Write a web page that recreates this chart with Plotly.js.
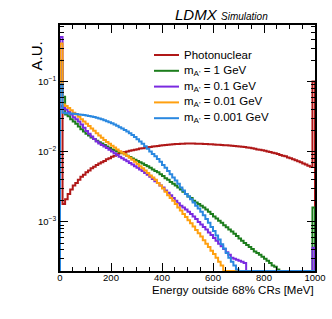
<!DOCTYPE html>
<html>
<head>
<meta charset="utf-8">
<script src="https://cdn.plot.ly/plotly-3.0.1.min.js"></script>
<style>html,body{margin:0;padding:0;background:#fff;}#chart{width:332px;height:319px;}</style>
</head>
<body>
<div id="chart"></div>
<script>
// Bin layout: 100 bins of 10 MeV from 0 to 1000
const binWidth = 10;
const nBins = 100;

const seriesNames = ["Photonuclear", "m<sub>A'</sub> = 1 GeV", "m<sub>A'</sub> = 0.1 GeV", "m<sub>A'</sub> = 0.01 GeV", "m<sub>A'</sub> = 0.001 GeV"];
const seriesColors = ["#b01818", "#1c7d1c", "#7a2ae0", "#ffa010", "#2a88e0"];

const photonuclear = [
  0.045, 0.0018, 0.0021, 0.0025, 0.0029, 0.0033, 0.0036, 0.0040, 0.0044, 0.0047,
  0.0051, 0.0054, 0.0058, 0.0061, 0.0065, 0.0068, 0.0071, 0.0074, 0.0078, 0.0081,
  0.0085, 0.0088, 0.0092, 0.0095, 0.0097, 0.0099, 0.0101, 0.0103, 0.0105, 0.0107,
  0.0109, 0.0111, 0.0112, 0.0114, 0.0116, 0.0117, 0.0119, 0.0120, 0.0121, 0.0123,
  0.0124, 0.0125, 0.0126, 0.0127, 0.0128, 0.0129, 0.0129, 0.0130, 0.0130, 0.0131,
  0.0131, 0.0131, 0.0131, 0.0130, 0.0130, 0.0130, 0.0129, 0.0129, 0.0128, 0.0128,
  0.0127, 0.0126, 0.0126, 0.0125, 0.0124, 0.0124, 0.0123, 0.0122, 0.0121, 0.0120,
  0.0119, 0.0118, 0.0117, 0.0115, 0.0114, 0.0112, 0.0110, 0.0108, 0.0107, 0.0105,
  0.0103, 0.0101, 0.0099, 0.0097, 0.0095, 0.0093, 0.0090, 0.0088, 0.0086, 0.0083,
  0.0081, 0.0078, 0.0076, 0.0073, 0.0071, 0.0068, 0.0066, 0.0063, 0.0061, 0.100
];

const mA_1GeV = [
  0.20, 0.061, 0.034, 0.032, 0.029, 0.027, 0.025, 0.023, 0.021, 0.0195,
  0.018, 0.017, 0.016, 0.0152, 0.0144, 0.0137, 0.0131, 0.0125, 0.0119, 0.0113,
  0.0108, 0.0105, 0.0102, 0.0099, 0.0096, 0.0092, 0.0088, 0.0084, 0.0080, 0.0077,
  0.0074, 0.0071, 0.0068, 0.0065, 0.0062, 0.0059, 0.0056, 0.0053, 0.0051, 0.0048,
  0.0045, 0.0042, 0.0040, 0.0037, 0.0035, 0.0033, 0.0031, 0.0029, 0.0027, 0.0025,
  0.0023, 0.0022, 0.0020, 0.0019, 0.0018, 0.0017, 0.0016, 0.0015, 0.0014, 0.0013,
  0.0012, 0.00112, 0.00104, 0.00097, 0.00090, 0.00084, 0.00078, 0.00073, 0.00068, 0.00063,
  0.00058, 0.00054, 0.00050, 0.00047, 0.00044, 0.00041, 0.00038, 0.00036, 0.00034, 0.00032,
  0.00030, 0.00028, 0.00026, 0.00024, 0.00023, 0.00021, 0, 0, 0, 0,
  0, 0, 0, 0, 0, 0, 0, 0, 0, 0.0016
];

const mA_0p1GeV = [
  0.43, 0.042, 0.040, 0.037, 0.034, 0.031, 0.029, 0.027, 0.0245, 0.022,
  0.0198, 0.018, 0.0165, 0.0152, 0.014, 0.0131, 0.0125, 0.0119, 0.0113, 0.0107,
  0.0101, 0.0095, 0.0090, 0.0085, 0.0081, 0.0077, 0.0073, 0.0069, 0.0066, 0.0062,
  0.0059, 0.0056, 0.0053, 0.0050, 0.0047, 0.0044, 0.0041, 0.0038, 0.0036, 0.0033,
  0.0031, 0.0028, 0.0026, 0.0024, 0.0022, 0.0020, 0.00185, 0.0017, 0.0016, 0.0015,
  0.0014, 0.0013, 0.0012, 0.0011, 0.0010, 0.00092, 0.00085, 0.00078, 0.00071, 0.00065,
  0.00059, 0.00054, 0.00049, 0.00045, 0.00041, 0.00037, 0.00034, 0.00031, 0.00030, 0.00029,
  0.00028, 0.00027, 0.00026, 0, 0, 0, 0, 0, 0, 0,
  0, 0, 0, 0, 0, 0, 0, 0, 0, 0,
  0, 0, 0, 0, 0, 0, 0, 0, 0, 0.00043
];

const mA_0p01GeV = [
  0.35, 0.047, 0.045, 0.042, 0.039, 0.036, 0.034, 0.0315, 0.029, 0.027,
  0.025, 0.0232, 0.0215, 0.0199, 0.0184, 0.017, 0.0158, 0.0147, 0.0138, 0.013,
  0.0122, 0.0115, 0.0108, 0.0102, 0.0097, 0.0092, 0.0087, 0.0082, 0.0077, 0.0072,
  0.0067, 0.0062, 0.0058, 0.0054, 0.0050, 0.0046, 0.0043, 0.0040, 0.0036, 0.0033,
  0.0030, 0.0027, 0.0024, 0.0022, 0.0020, 0.0018, 0.0016, 0.00145, 0.0013, 0.00118,
  0.00106, 0.00096, 0.00086, 0.00077, 0.00069, 0.00062, 0.00055, 0.00049, 0.00044, 0.00039,
  0.00035, 0.00031, 0.00027, 0.00024, 0, 0, 0, 0, 0, 0,
  0, 0, 0, 0, 0, 0, 0, 0, 0, 0,
  0, 0, 0, 0, 0, 0, 0, 0, 0, 0,
  0, 0, 0, 0, 0, 0, 0, 0, 0, 0
];

const mA_0p001GeV = [
  0.091, 0.036, 0.0355, 0.0352, 0.035, 0.0347, 0.0344, 0.034, 0.0337, 0.0333,
  0.0328, 0.0323, 0.0318, 0.0312, 0.0305, 0.0298, 0.029, 0.0282, 0.0273, 0.0264,
  0.0254, 0.0244, 0.0234, 0.0224, 0.0215, 0.0205, 0.0195, 0.0184, 0.0173, 0.0162,
  0.0151, 0.014, 0.013, 0.012, 0.011, 0.0101, 0.0093, 0.0086, 0.0079, 0.0072,
  0.0065, 0.0059, 0.0053, 0.0048, 0.0043, 0.0039, 0.0035, 0.0031, 0.0028, 0.0025,
  0.0023, 0.0021, 0.0019, 0.0017, 0.00155, 0.0014, 0.00125, 0.0011, 0.00097, 0.00085,
  0.00074, 0.00064, 0.00056, 0.00048, 0.00042, 0.00036, 0.00031, 0.00027, 0.00024, 0.00021,
  0, 0, 0, 0, 0, 0, 0, 0, 0, 0,
  0, 0, 0, 0, 0, 0, 0, 0, 0, 0,
  0, 0, 0, 0, 0, 0, 0, 0, 0, 0
];

const allSeries = [photonuclear, mA_1GeV, mA_0p1GeV, mA_0p01GeV, mA_0p001GeV];

const yTickVals = [0.001, 0.01, 0.1];
const yTickText = ["10<sup>\u22123</sup>", "10<sup>\u22122</sup>", "10<sup>\u22121</sup>"];
const xTickVals = [0, 200, 400, 600, 800, 1000];
const xTickText = ["0", "200", "400", "600", "800", "1000"];

// ---- drawing ----
const yMin = 2.0e-4, yMax = 0.64;
const W = 332, H = 319;
const M = {l: 60, r: 17, t: 25, b: 48};
const PW = W - M.l - M.r, PH = H - M.t - M.b;
const px = x => (x - M.l) / PW;
const py = y => 1 - (y - M.t) / PH;
const FONT = "Liberation Sans, Arial, Helvetica, sans-serif";

function stepTrace(vals, color, name) {
  const xs = [0], ys = [yMin];
  for (let i = 0; i < vals.length; i++) {
    xs.push(i * binWidth);
    ys.push(vals[i] > 0 ? vals[i] : yMin);
  }
  xs.push(nBins * binWidth); ys.push(vals[vals.length - 1] > 0 ? vals[vals.length - 1] : yMin);
  xs.push(nBins * binWidth); ys.push(yMin);
  return {x: xs, y: ys, type: 'scatter', mode: 'lines', name: name,
          line: {shape: 'hv', color: color, width: 2}, showlegend: false, hoverinfo: 'skip'};
}

const traces = allSeries.map((s, i) => stepTrace(s, seriesColors[i], seriesNames[i]));

const minorVals = [];
for (let e = -4; e <= 0; e++) for (let d = 2; d <= 9; d++) {
  const v = d * Math.pow(10, e);
  if (v > yMin && v < yMax) minorVals.push(v);
}

const shapes = [], annotations = [];
const legY0 = 55, legDy = 15.8;
seriesNames.forEach((n, i) => {
  const yy = py(legY0 + i * legDy);
  shapes.push({type: 'line', xref: 'paper', yref: 'paper', x0: px(154), x1: px(179), y0: yy, y1: yy,
               line: {color: seriesColors[i], width: 2}});
  annotations.push({xref: 'paper', yref: 'paper', x: px(182), y: yy, xanchor: 'left', yanchor: 'middle',
                    text: n, showarrow: false, font: {family: FONT, size: 11.5, color: '#000'}});
});
annotations.push({xref: 'paper', yref: 'paper', x: px(173), y: py(14.5), xanchor: 'left', yanchor: 'middle',
  text: '<i>LDMX</i>', showarrow: false, font: {family: FONT, size: 15, color: '#000'}});
annotations.push({xref: 'paper', yref: 'paper', x: px(219), y: py(16.5), xanchor: 'left', yanchor: 'middle',
  text: '<i>Simulation</i>', showarrow: false, font: {family: FONT, size: 10, color: '#000'}});
annotations.push({xref: 'paper', yref: 'paper', x: px(36), y: py(40), xanchor: 'center', yanchor: 'top',
  text: 'A.U.', textangle: -90, showarrow: false, font: {family: FONT, size: 15, color: '#000'}});
annotations.push({xref: 'paper', yref: 'paper', x: px(316), y: py(290), xanchor: 'right', yanchor: 'middle',
  text: 'Energy outside 68% CRs [MeV]', showarrow: false, font: {family: FONT, size: 11.5, color: '#000'}});

const layout = {
  width: W, height: H, margin: M,
  paper_bgcolor: '#fff', plot_bgcolor: '#fff',
  font: {family: FONT, color: '#000'},
  showlegend: false,
  xaxis: {
    range: [0, 1000], tickvals: xTickVals, ticktext: xTickText,
    ticks: 'inside', ticklen: 8, tickwidth: 1, tickcolor: '#000',
    showline: true, linecolor: '#000', linewidth: 2, mirror: 'allticks',
    showgrid: false, zeroline: false, ticklabelstandoff: -3,
    minor: {dtick: 50, ticks: 'inside', ticklen: 4, tickcolor: '#000', showgrid: false},
    tickfont: {family: FONT, size: 9.5, color: '#000'}
  },
  yaxis: {
    type: 'log', range: [Math.log10(yMin), Math.log10(yMax)],
    tickvals: yTickVals, ticktext: yTickText,
    ticks: 'inside', ticklen: 8, tickwidth: 1, tickcolor: '#000',
    showline: true, linecolor: '#000', linewidth: 2, mirror: 'allticks',
    showgrid: false, zeroline: false,
    minor: {tickvals: minorVals, ticks: 'inside', ticklen: 4, tickcolor: '#000', showgrid: false},
    tickfont: {family: FONT, size: 9.5, color: '#000'}
  },
  shapes: shapes, annotations: annotations
};

Plotly.newPlot('chart', traces, layout, {displayModeBar: false, staticPlot: true});
</script>
</body>
</html>
